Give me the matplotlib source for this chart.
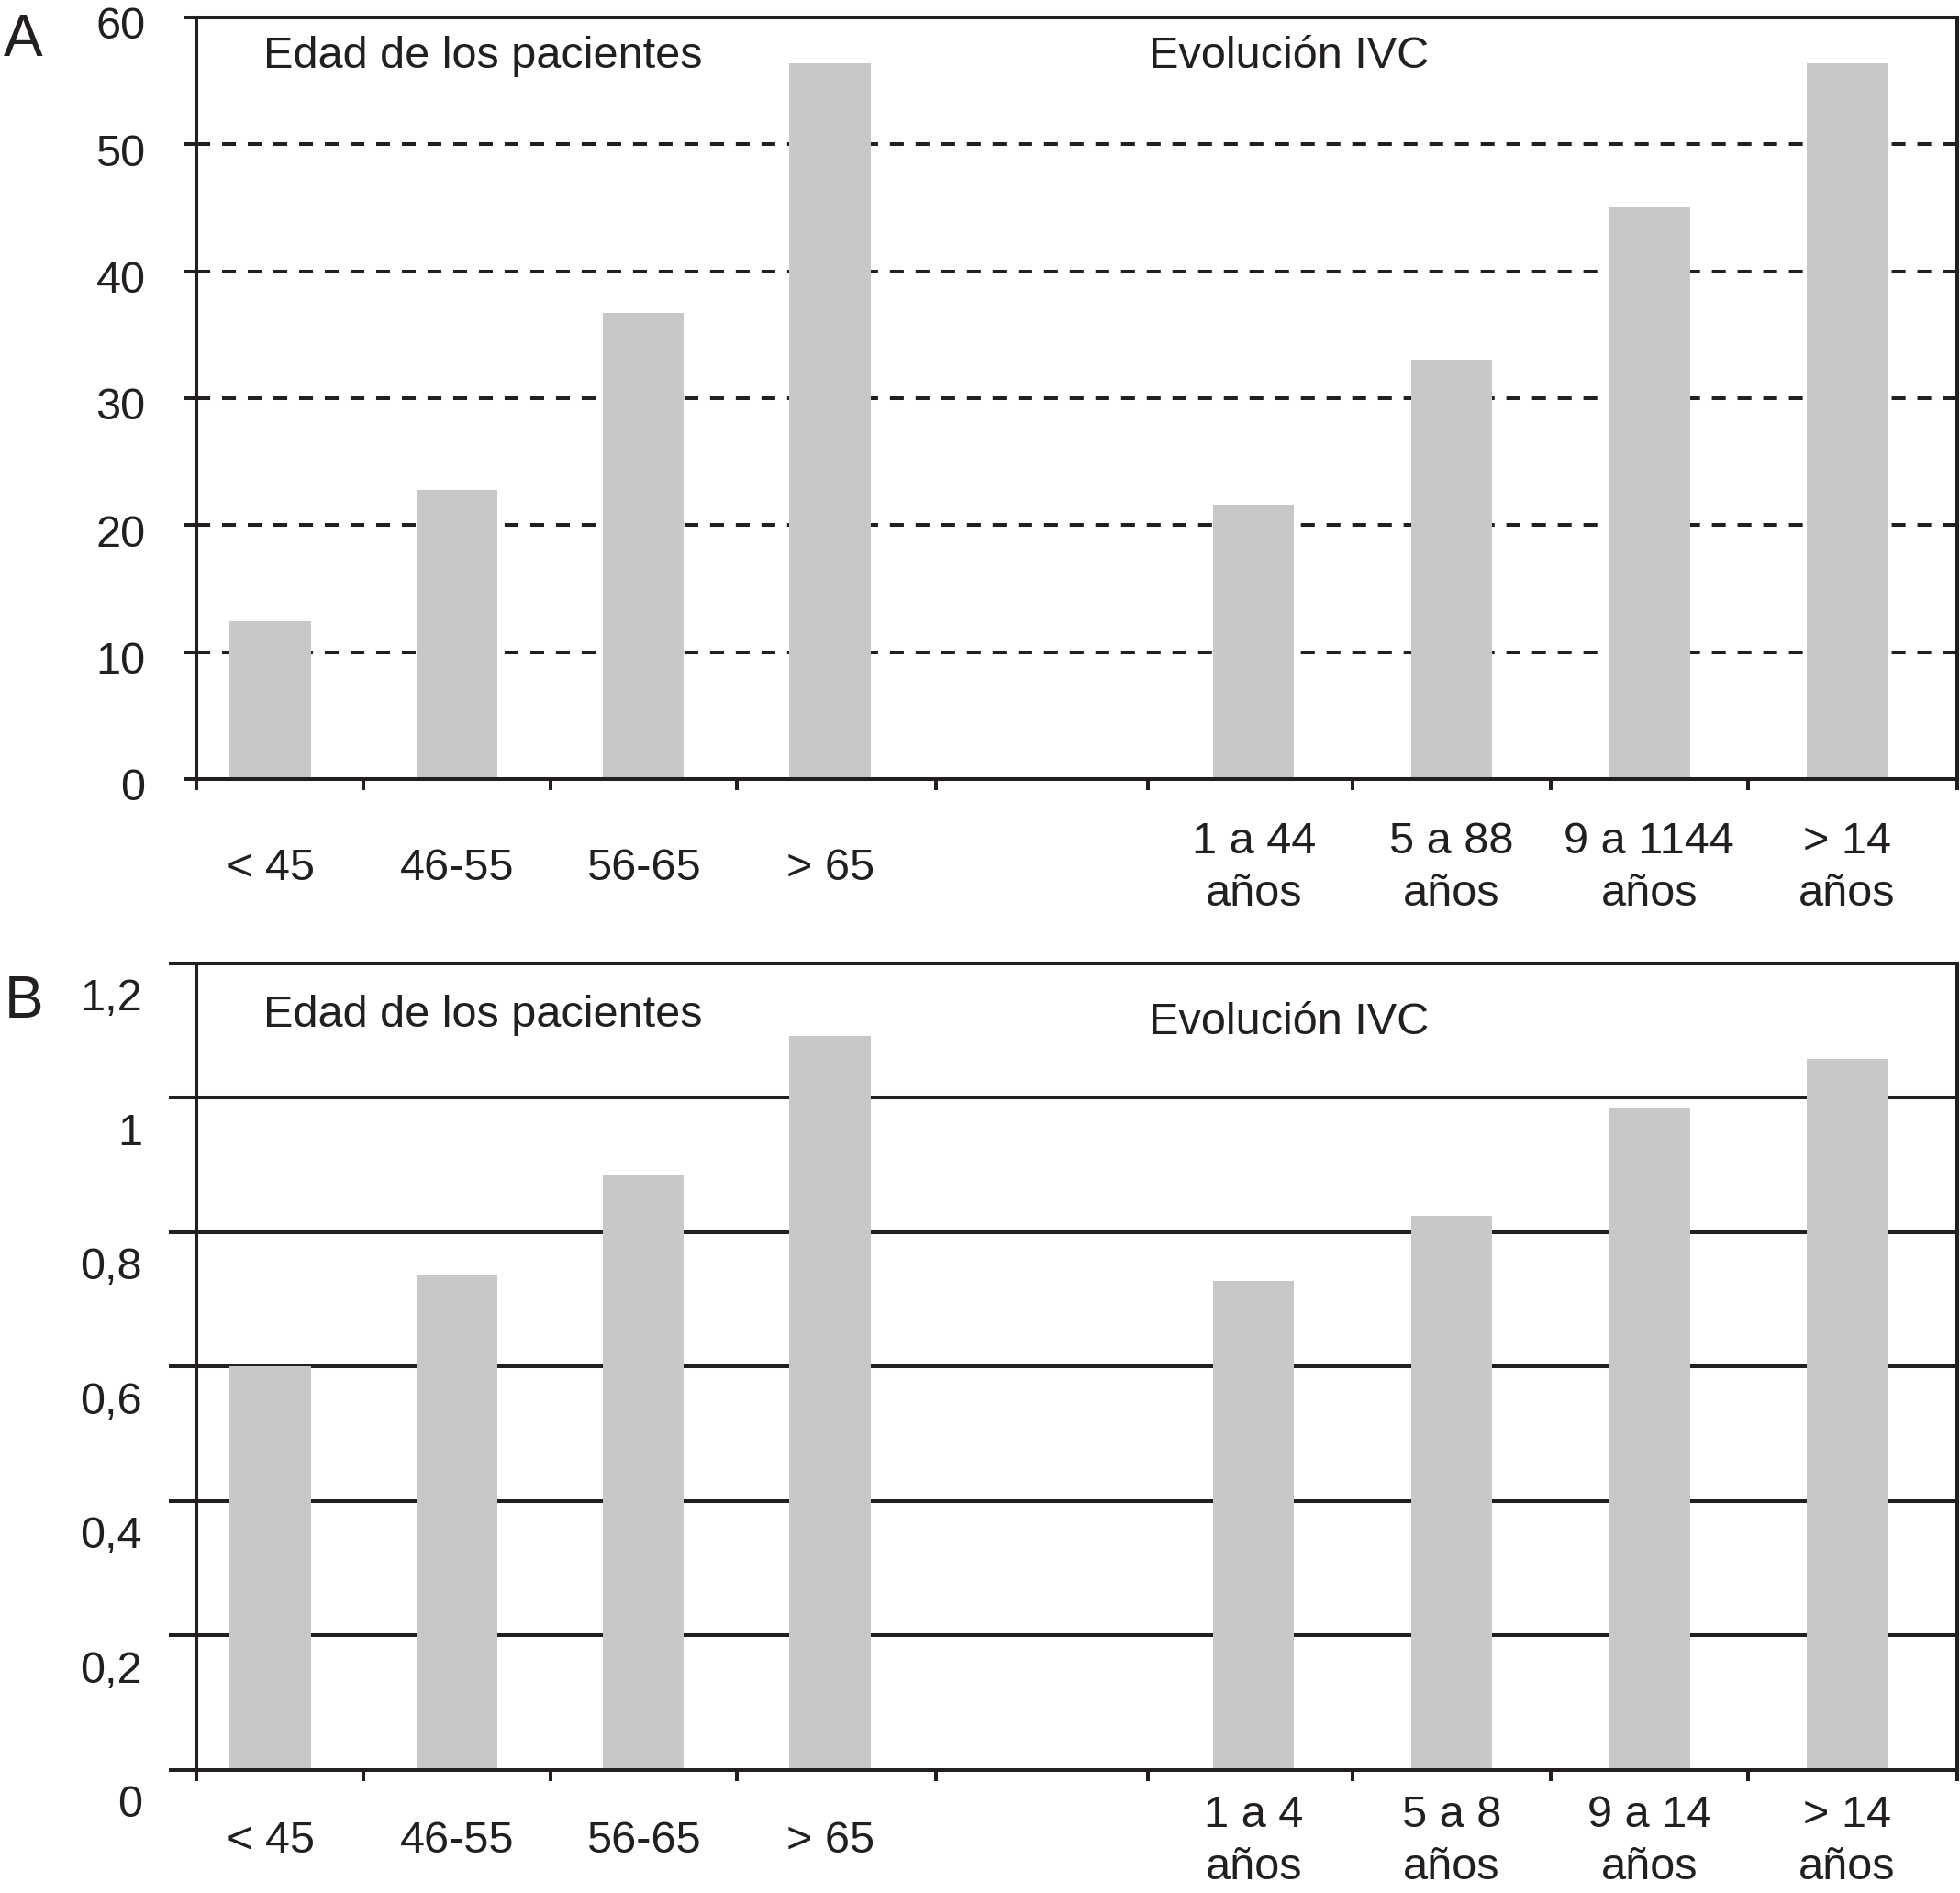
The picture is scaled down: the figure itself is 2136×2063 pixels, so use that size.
import numpy as np
import matplotlib.pyplot as plt
import matplotlib.transforms as mtransforms

# Data
age_groups = ["< 45", "46-55", "56-65", "> 65"]
ivc_groups_a = ["1 a 44\naños", "5 a 88\naños", "9 a 1144\naños", "> 14\naños"]
ivc_groups_b = ["1 a 4\naños", "5 a 8\naños", "9 a 14\naños", "> 14\naños"]

age_values_a = [12.4, 22.8, 36.7, 56.4]
ivc_values_a = [21.6, 33.0, 45.0, 56.4]

age_values_b = [0.60, 0.737, 0.886, 1.092]
ivc_values_b = [0.727, 0.824, 0.986, 1.058]

yticks_a = [0, 10, 20, 30, 40, 50, 60]
yticklabels_a = ["0", "10", "20", "30", "40", "50", "60"]
yticks_b = [0, 0.2, 0.4, 0.6, 0.8, 1.0, 1.2]
yticklabels_b = ["0", "0,2", "0,4", "0,6", "0,8", "1", "1,2"]

plt.rcParams['font.family'] = ['Liberation Sans', 'DejaVu Sans']
ink = "#231f20"
bar_color = "#c7c8ca"
fs = 35
lw = 2.9

fig = plt.figure(figsize=(21.36, 20.63), dpi=100)
ax_a = fig.add_axes([0.1002, 0.5885, 0.8984, 0.4023])
ax_b = fig.add_axes([0.1002, 0.0650, 0.8984, 0.4261])

# age group slots are a bit narrower than the IVC slots in the original
age_pos = 0.03 + 0.943 * np.arange(len(age_groups))
ivc_pos = len(age_groups) + 1 + np.arange(len(ivc_groups_a))
gap_pos = (age_pos[-1] + ivc_pos[0]) / 2
slots = np.concatenate([age_pos, [gap_pos], ivc_pos])
xlim = (-0.344, 8.557)
boundaries = [xlim[0]] + list((slots[:-1] + slots[1:]) / 2) + [xlim[1]]


def draw_panel(ax, age_vals, ivc_vals, ivc_labels, yticks, ylabels, ymax,
               dashed, ytick_len, ytick_pad, ylab_shift, xlab_pad, txt_y):
    ax.bar(age_pos, age_vals, width=0.41, color=bar_color, zorder=2)
    ax.bar(ivc_pos, ivc_vals, width=0.41, color=bar_color, zorder=2)
    ax.set_xlim(*xlim)
    ax.set_ylim(0, ymax)

    # horizontal grid lines behind the bars
    ls = (0, (3.75, 3.2)) if dashed else "-"
    for y in yticks[1:-1]:
        ax.axhline(y, color=ink, lw=lw, ls=ls, zorder=1)

    for s in ax.spines.values():
        s.set_linewidth(lw)
        s.set_color(ink)
        s.set_zorder(3)

    ax.set_yticks(yticks)
    ax.set_yticklabels(ylabels)
    ax.tick_params(axis='y', direction='out', length=ytick_len, width=lw,
                   pad=ytick_pad, labelsize=fs, colors=ink)
    offset = mtransforms.ScaledTranslation(0, -ylab_shift, fig.dpi_scale_trans)
    for lab in ax.get_yticklabels():
        lab.set_transform(lab.get_transform() + offset)

    ax.set_xticks(list(age_pos) + list(ivc_pos))
    ax.set_xticklabels(age_groups + ivc_labels, linespacing=1.35)
    ax.tick_params(axis='x', which='major', length=0, pad=xlab_pad,
                   labelsize=fs, colors=ink)
    for lab in ax.get_xticklabels():
        lab.set_verticalalignment('center')
    ax.set_xticks(boundaries, minor=True)
    ax.tick_params(axis='x', which='minor', direction='out', length=8.5,
                   width=lw, color=ink)

    ax.text(0.038, txt_y[0], "Edad de los pacientes", transform=ax.transAxes,
            fontsize=fs, color=ink, va='center', ha='left')
    ax.text(0.541, txt_y[1], "Evolución IVC", transform=ax.transAxes,
            fontsize=fs, color=ink, va='center', ha='left')


draw_panel(ax_a, age_values_a, ivc_values_a, ivc_groups_a, yticks_a,
           yticklabels_a, 60, True, 10, 30, 0.06, 70, (0.949, 0.949))
draw_panel(ax_b, age_values_b, ivc_values_b, ivc_groups_b, yticks_b,
           yticklabels_b, 1.2, False, 21.5, 21, 0.34, 56, (0.935, 0.927))

fig.text(0.002, 1 - 44 / 2063, "A", fontsize=46, color=ink, va='center')
fig.text(0.002, 1 - 1092 / 2063, "B", fontsize=46, color=ink, va='center')

plt.savefig("out.png", dpi=100)
